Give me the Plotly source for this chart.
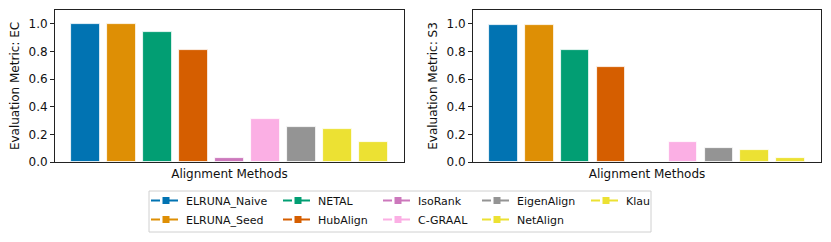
import plotly.graph_objects as go

methods = ["ELRUNA_Naive", "ELRUNA_Seed", "NETAL", "HubAlign", "IsoRank",
           "C-GRAAL", "EigenAlign", "NetAlign", "Klau"]
ec_values = [0.998, 0.998, 0.942, 0.809, 0.029, 0.312, 0.254, 0.242, 0.143]
s3_values = [0.993, 0.995, 0.809, 0.684, 0.0, 0.147, 0.104, 0.087, 0.029]
colors = ["#0173b2", "#de8f05", "#029e73", "#d55e00", "#cc78bc",
          "#fbafe4", "#949494", "#ece133", "#ece133"]
y_ticks = [0.0, 0.2, 0.4, 0.6, 0.8, 1.0]

W, H = 831, 242
FONT = "DejaVu Sans"

fig = go.Figure()

fig.add_trace(go.Bar(x=methods, y=ec_values, marker=dict(color=colors, line=dict(color="white", width=0.8)),
                     width=0.8, showlegend=False, xaxis="x", yaxis="y"))
fig.add_trace(go.Bar(x=methods, y=s3_values, marker=dict(color=colors, line=dict(color="white", width=0.8)),
                     width=0.8, showlegend=False, xaxis="x2", yaxis="y2"))

# legend entries, column-major in 5 columns of 2 rows
legend_names = ["legend", "legend2", "legend3", "legend4", "legend5"]
for i, (m, c) in enumerate(zip(methods, colors)):
    col = i // 2
    fig.add_trace(go.Scatter(x=[None], y=[None], name=m, mode="lines+markers",
                             line=dict(color=c, dash="dash", width=2),
                             marker=dict(symbol="square", size=7, color=c),
                             legend=legend_names[col], xaxis="x", yaxis="y"))

def px_x(p):
    return p / W

def px_y(p):
    return 1 - p / H

ax_common = dict(showline=True, linecolor="#222", linewidth=1, mirror=True,
                 showgrid=False, zeroline=False, automargin=False)
xrange_ = [-0.84, len(methods) - 1 + 0.84]

layout = dict(
    template="none",
    width=W, height=H,
    margin=dict(l=0, r=0, t=0, b=0, pad=0),
    paper_bgcolor="white", plot_bgcolor="white",
    font=dict(family=FONT, size=12, color="#111"),
    bargap=0,
    xaxis=dict(domain=[px_x(55), px_x(404)], range=xrange_, showticklabels=False, ticks="",
               title=dict(text="Alignment Methods", standoff=7, font=dict(size=12)), anchor="y", **ax_common),
    yaxis=dict(domain=[px_y(162), px_y(10)], range=[0, 1.1], tickvals=y_ticks, tickformat=".1f",
               ticks="outside", ticklen=4, tickcolor="#222", anchor="x", tickfont=dict(size=12),
               title=dict(text="Evaluation Metric: EC", standoff=6, font=dict(size=12)), **ax_common),
    xaxis2=dict(domain=[px_x(473), px_x(821)], range=xrange_, showticklabels=False, ticks="",
                title=dict(text="Alignment Methods", standoff=7, font=dict(size=12)), anchor="y2", **ax_common),
    yaxis2=dict(domain=[px_y(162), px_y(10)], range=[0, 1.1], tickvals=y_ticks, tickformat=".1f",
                ticks="outside", ticklen=4, tickcolor="#222", anchor="x2", tickfont=dict(size=12),
                title=dict(text="Evaluation Metric: S3", standoff=6, font=dict(size=12)), **ax_common),
)

leg_x = [146, 278, 378, 477, 586]
for name, lx in zip(legend_names, leg_x):
    layout[name] = dict(x=px_x(lx), y=px_y(186), xanchor="left", yanchor="top",
                        orientation="v", bgcolor="rgba(0,0,0,0)", borderwidth=0,
                        itemwidth=30, font=dict(family=FONT, size=11, color="#111"),
                        tracegroupgap=0)

layout["shapes"] = [dict(type="rect", xref="paper", yref="paper",
                         x0=px_x(149), x1=px_x(651), y0=px_y(232), y1=px_y(191),
                         line=dict(color="#d0d0d0", width=1), fillcolor="rgba(0,0,0,0)", layer="below")]

fig.update_layout(**layout)
fig.write_html("out.html", config={"displayModeBar": False},
               post_script="document.body.style.margin='0';")
